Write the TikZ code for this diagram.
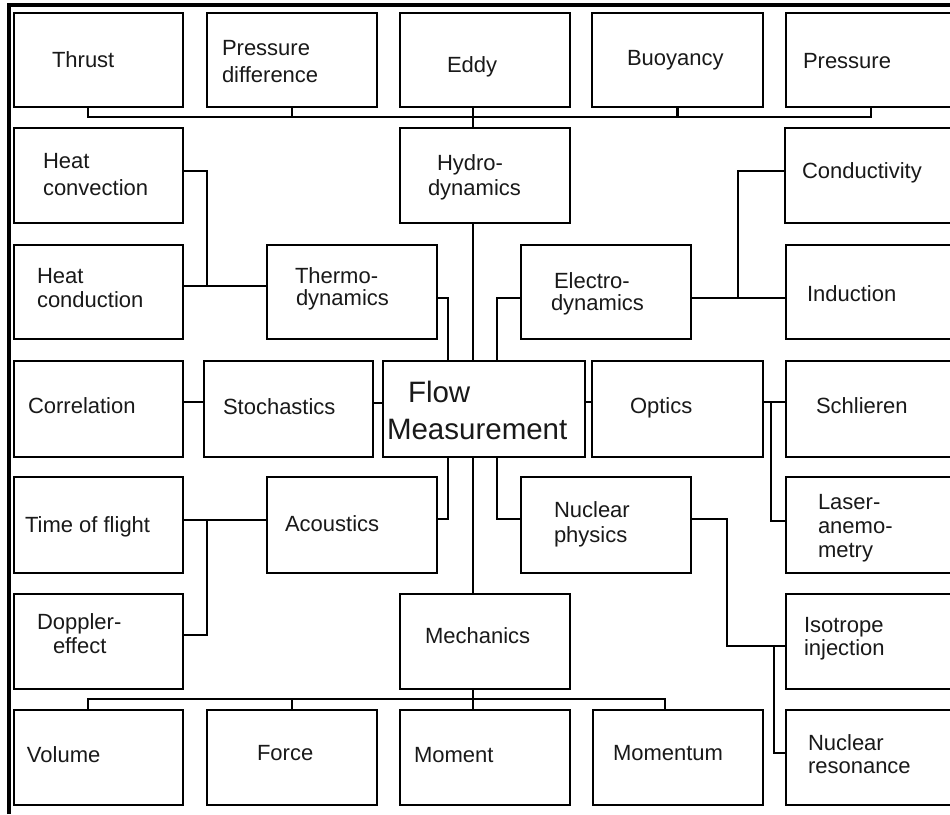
\documentclass[tikz,border=0pt]{standalone}
\usepackage{fontspec}
\setmainfont{Liberation Sans}
\begin{document}
\begin{tikzpicture}[x=1pt,y=-1pt,
  box/.style={draw=black,line width=2.9pt,rectangle,inner sep=0pt,outer sep=0pt,fill=white},
  conn/.style={draw=black,line width=2.9pt},
  lbl/.style={anchor=base west,inner sep=0pt,outer sep=0pt,font=\fontsize{22}{25}\selectfont,text=black!90},
  big/.style={lbl,font=\fontsize{29.5}{33}\selectfont}]
\useasboundingbox[fill=white] (0,0) rectangle (950,814);
\newcommand\mkbox[5]{%
 \pgfmathsetmacro\cxx{(#2+#4)/2}\pgfmathsetmacro\cyy{(#3+#5)/2}%
 \pgfmathsetmacro\ww{#4-#2}\pgfmathsetmacro\hh{#5-#3}%
 \node[box,minimum width=\ww pt,minimum height=\hh pt] (#1) at (\cxx,\cyy) {};}
% frame
\coordinate (fa) at (9,814);
\coordinate (fb) at (9,5);
\coordinate (fc) at (950,5);
\draw[line width=3.2pt] (fa) -- (fb) -- (fc);
% boxes
\mkbox{thrust}{14}{13}{183}{107}
\mkbox{pdiff}{207}{13}{377}{107}
\mkbox{eddy}{400}{13}{570}{107}
\mkbox{buoy}{592}{13}{763}{107}
\mkbox{press}{786}{13}{956}{107}
\mkbox{hconv}{14}{128}{183}{223}
\mkbox{hydro}{400}{128}{570}{223}
\mkbox{cond}{785}{128}{956}{223}
\mkbox{hcond}{14}{245}{183}{339}
\mkbox{thermo}{267}{245}{437}{339}
\mkbox{electro}{521}{245}{691}{339}
\mkbox{induct}{786}{245}{956}{339}
\mkbox{corr}{14}{361}{183}{457}
\mkbox{stoch}{204}{361}{373}{457}
\mkbox{flow}{383}{361}{585}{457}
\mkbox{optics}{592}{361}{763}{457}
\mkbox{schl}{786}{361}{956}{457}
\mkbox{tof}{14}{477}{183}{573}
\mkbox{acou}{267}{477}{437}{573}
\mkbox{nucl}{521}{477}{691}{573}
\mkbox{laser}{786}{477}{956}{573}
\mkbox{doppler}{14}{594}{183}{689}
\mkbox{mech}{400}{594}{570}{689}
\mkbox{iso}{786}{594}{956}{689}
\mkbox{vol}{14}{710}{183}{805}
\mkbox{force}{207}{710}{377}{805}
\mkbox{moment}{400}{710}{570}{805}
\mkbox{momentum}{593}{710}{763}{805}
\mkbox{nres}{786}{710}{956}{805}
% helper coordinates
\coordinate (vx) at ([xshift=-12pt]hydro.south);
\coordinate (tx) at ([xshift=11pt]thermo.east);
\coordinate (ex) at ([xshift=-24pt]electro.west);
\coordinate (hj) at ([xshift=24pt,yshift=6pt]hcond.east);
\coordinate (ix) at ([xshift=47pt,yshift=-6pt]electro.east);
\coordinate (ox) at ([xshift=8pt,yshift=7pt]optics.east);
\coordinate (nx) at ([xshift=-59pt,yshift=-4.5pt]iso.west);
\coordinate (rx) at ([xshift=-12pt,yshift=-4.5pt]iso.west);
\coordinate (dx) at ([xshift=24pt,yshift=5pt]tof.east);
% top bus
\draw[conn] ([xshift=-10.5pt]thrust.south) -- ++(0,10) -| (press.south);
\draw[conn] (pdiff.south) -- ++(0,10);
\draw[conn] (buoy.south) -- ++(0,10);
\draw[conn] ([xshift=-12pt]eddy.south) -- ([xshift=-12pt]hydro.north);
% central spine
\draw[conn] (vx) -- (vx |- flow.north);
\draw[conn] (vx |- flow.south) -- (vx |- mech.north);
\draw[conn] (vx |- mech.south) -- (vx |- moment.north);
% bottom bus
\draw[conn] ([xshift=-10.5pt]vol.north) -- ++(0,-11) -| ([xshift=-13pt]momentum.north);
\draw[conn] (force.north) -- ++(0,-11);
% thermo
\draw[conn] ([yshift=4.5pt]hconv.east) -| (hj);
\draw[conn] ([yshift=6pt]hcond.east) -- ([yshift=6pt]thermo.west);
\draw[conn] ([yshift=-6pt]thermo.east) -| (tx |- flow.north);
% electro
\draw[conn] ([yshift=-6pt]electro.west) -| (ex |- flow.north);
\draw[conn] ([yshift=-6pt]electro.east) -- ([yshift=-6pt]induct.west);
\draw[conn] ([yshift=4.5pt]cond.west) -| (ix);
% middle row
\draw[conn] ([yshift=7pt]corr.east) -- ([yshift=7pt]stoch.west);
\draw[conn] ([yshift=6pt]stoch.east) -- ([yshift=6pt]flow.west);
\draw[conn] ([yshift=7pt]flow.east) -- ([yshift=7pt]optics.west);
\draw[conn] ([yshift=7pt]optics.east) -- ([yshift=7pt]schl.west);
\draw[conn] (ox) |- ([yshift=4pt]laser.west);
% lower
\draw[conn] (tx |- flow.south) |- ([yshift=6pt]acou.east);
\draw[conn] (ex |- flow.south) |- ([yshift=6pt]nucl.west);
\draw[conn] ([yshift=5pt]tof.east) -- ([yshift=5pt]acou.west);
\draw[conn] ([yshift=6.5pt]doppler.east) -| (dx);
\draw[conn] ([yshift=6pt]nucl.east) -| (nx) -- ([yshift=-4.5pt]iso.west);
\draw[conn] (rx) |- ([yshift=4.5pt]nres.west);
% labels
\node[lbl] (l1) at (52,67) {Thrust};
\node[lbl] (l2a) at (222,55) {Pressure};
\node[lbl] (l2b) at (222,82) {difference};
\node[lbl] (l3) at (447,72) {Eddy};
\node[lbl] (l4) at (627,65) {Buoyancy};
\node[lbl] (l5) at (803,68) {Pressure};
\node[lbl] (l6a) at (43,168) {Heat};
\node[lbl] (l6b) at (43,195) {convection};
\node[lbl] (l7a) at (437,170) {Hydro-};
\node[lbl] (l7b) at (428,195) {dynamics};
\node[lbl] (l8) at (802,178) {Conductivity};
\node[lbl] (l9a) at (37,283) {Heat};
\node[lbl] (l9b) at (37,307) {conduction};
\node[lbl] (l10a) at (295,283) {Thermo-};
\node[lbl] (l10b) at (296,305) {dynamics};
\node[lbl] (l11a) at (554,288) {Electro-};
\node[lbl] (l11b) at (551,310) {dynamics};
\node[lbl] (l12) at (807,301) {Induction};
\node[lbl] (l13) at (28,413) {Correlation};
\node[lbl] (l14) at (223,414) {Stochastics};
\node[big] (l15a) at (408,402) {Flow};
\node[big] (l15b) at (387,439) {Measurement};
\node[lbl] (l16) at (630,413) {Optics};
\node[lbl] (l17) at (816,413) {Schlieren};
\node[lbl] (l18) at (25,532) {Time of flight};
\node[lbl] (l19) at (285,531) {Acoustics};
\node[lbl] (l20a) at (554,517) {Nuclear};
\node[lbl] (l20b) at (554,542) {physics};
\node[lbl] (l21a) at (818,509) {Laser-};
\node[lbl] (l21b) at (818,533) {anemo-};
\node[lbl] (l21c) at (818,557) {metry};
\node[lbl] (l22a) at (37,629) {Doppler-};
\node[lbl] (l22b) at (53,653) {effect};
\node[lbl] (l23) at (425,643) {Mechanics};
\node[lbl] (l24a) at (804,632) {Isotrope};
\node[lbl] (l24b) at (804,655) {injection};
\node[lbl] (l25) at (27,762) {Volume};
\node[lbl] (l26) at (257,760) {Force};
\node[lbl] (l27) at (414,762) {Moment};
\node[lbl] (l28) at (613,760) {Momentum};
\node[lbl] (l29a) at (808,750) {Nuclear};
\node[lbl] (l29b) at (808,773) {resonance};
\end{tikzpicture}
\end{document}
